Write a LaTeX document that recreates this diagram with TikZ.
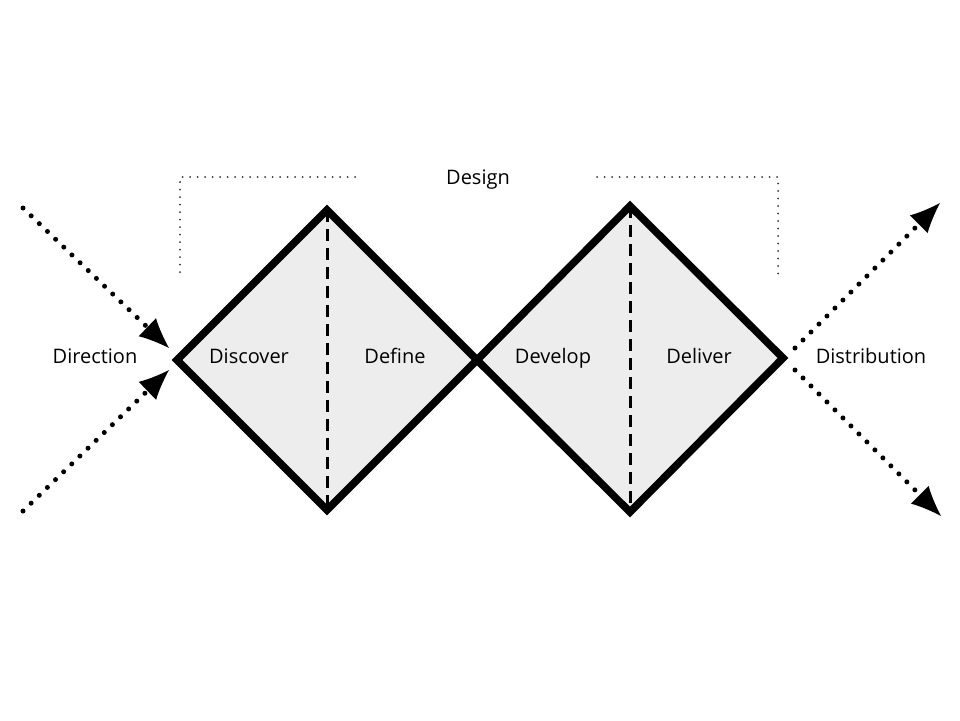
\documentclass[tikz,border=0pt]{standalone}
\usepackage{fontspec}
\setmainfont{Open Sans}
\usetikzlibrary{arrows.meta}
\begin{document}
\begin{tikzpicture}[x=1pt,y=-1pt,
  diam/.style={draw=black,line width=7.5pt,line join=miter},
  divider/.style={draw=black,line width=3pt,dash pattern=on 12pt off 7pt},
  flow/.style={line width=5pt,line cap=round,dash pattern=on 0pt off 11.3pt,-{Latex[length=30pt,width=25pt,line width=0pt]}},
  bracket/.style={line width=2pt,line cap=round,dash pattern=on 0pt off 7.5pt,draw=black!80},
  lbl/.style={font=\fontsize{20}{22}\selectfont,inner sep=0pt,anchor=base}]
\useasboundingbox (0,0) rectangle (960,720);
% diamonds
\coordinate (d1l) at (177,360); \coordinate (d1t) at (327,210);
\coordinate (d1r) at (477,360); \coordinate (d1b) at (327,510);
\coordinate (d2t) at (630,206); \coordinate (d2r) at (783,358);
\coordinate (d2b) at (630,512);
\fill[gray!14] (d1l) -- (d1t) -- (d1r) -- (d1b) -- cycle;
\fill[gray!14] (d1r) -- (d2t) -- (d2r) -- (d2b) -- cycle;
\draw[divider] (d1t) -- (d1b);
\draw[divider] (d2t) -- (d2b);
\draw[diam] (d1l) -- (d1t) -- (d1r) -- (d1b) -- cycle;
\draw[diam] (d1r) -- (d2t) -- (d2r) -- (d2b) -- cycle;
% labels
\node[lbl] (direction) at (95,363) {Direction};
\node[lbl] (discover) at (249,363) {Discover};
\node[lbl] (define) at (395,363) {Define};
\node[lbl] (develop) at (553,363) {Develop};
\node[lbl] (deliver) at (699,363) {Deliver};
\node[lbl] (distribution) at (871,363) {Distribution};
\node[lbl] (design) at (478,184) {Design};
% bracket
\coordinate (b1) at (180,272); \coordinate (b2) at (180,177); \coordinate (b3) at (357,177);
\coordinate (b4) at (597,177); \coordinate (b5) at (778,177); \coordinate (b6) at (778,274);
\draw[bracket] (b1) -- (b2) -- (b3);
\draw[bracket] (b4) -- (b5) -- (b6);
% arrows
\coordinate (a1s) at (23,208); \coordinate (a1e) at (169,348);
\coordinate (a2s) at (23,511); \coordinate (a2e) at (169,370);
\coordinate (a3s) at (795,348); \coordinate (a3e) at (940,203);
\coordinate (a4s) at (795,370); \coordinate (a4e) at (941,516);
\draw[flow] (a1s) -- (a1e);
\draw[flow] (a2s) -- (a2e);
\draw[flow] (a3s) -- (a3e);
\draw[flow] (a4s) -- (a4e);
\end{tikzpicture}
\end{document}
